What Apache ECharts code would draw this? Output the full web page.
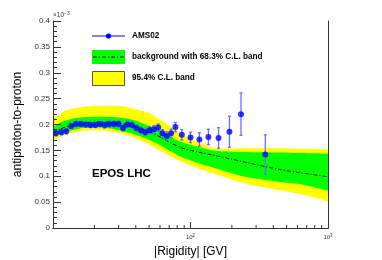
<!DOCTYPE html>
<html><head><meta charset="utf-8">
<script src="https://cdn.jsdelivr.net/npm/echarts@6/dist/echarts.min.js"></script>
<style>html,body{margin:0;padding:0;background:#fff}#c{width:382px;height:260px}</style>
</head><body><div id="c"></div>
<script>
// AMS02 antiproton-to-proton ratio (units of 1e-3)
const rigidity = [10.5, 11.5, 12.5, 13.55, 14.7, 15.95, 17.3, 18.75, 20.3, 21.95, 23.75, 25.7, 27.75, 29.95, 32.3, 34.8, 37.5, 40.4, 43.5, 46.8, 50.35, 54.15, 58.2, 62.55, 67.25, 72.3, 77.7, 86.5, 100, 116, 135, 160, 192, 233, 350];
const ratio = [0.183, 0.185, 0.187, 0.197, 0.201, 0.201, 0.200, 0.199, 0.199, 0.201, 0.199, 0.201, 0.201, 0.201, 0.193, 0.200, 0.199, 0.193, 0.189, 0.185, 0.189, 0.191, 0.194, 0.183, 0.178, 0.183, 0.195, 0.180, 0.175, 0.171, 0.176, 0.174, 0.186, 0.220, 0.142];
const ratioErr = [0.005, 0.005, 0.005, 0.005, 0.005, 0.005, 0.005, 0.005, 0.005, 0.005, 0.006, 0.006, 0.006, 0.006, 0.006, 0.006, 0.006, 0.006, 0.006, 0.006, 0.007, 0.007, 0.007, 0.007, 0.008, 0.008, 0.009, 0.010, 0.010, 0.013, 0.015, 0.020, 0.030, 0.041, 0.038];

// Background model (EPOS LHC) with confidence bands
const bandRigidity = [10, 11.2, 12.6, 14.4, 16.5, 22, 29, 38, 50, 60, 70, 88, 117, 145, 193, 250, 445, 620, 1000];
const yellowHigh = [0.210, 0.220, 0.228, 0.232, 0.234, 0.236, 0.236, 0.231, 0.222, 0.209, 0.198, 0.180, 0.165, 0.155, 0.153, 0.154, 0.154, 0.153, 0.152];
const greenHigh  = [0.195, 0.203, 0.208, 0.212, 0.214, 0.215, 0.214, 0.209, 0.197, 0.189, 0.178, 0.165, 0.156, 0.150, 0.148, 0.147, 0.146, 0.145, 0.144];
const bgCentral  = [0.185, 0.191, 0.196, 0.200, 0.203, 0.205, 0.203, 0.197, 0.186, 0.176, 0.166, 0.154, 0.146, 0.141, 0.134, 0.127, 0.113, 0.107, 0.099];
const greenLow   = [0.178, 0.183, 0.187, 0.190, 0.193, 0.194, 0.190, 0.182, 0.170, 0.160, 0.150, 0.136, 0.124, 0.117, 0.107, 0.099, 0.089, 0.085, 0.072];
const yellowLow  = [0.170, 0.176, 0.181, 0.185, 0.188, 0.189, 0.184, 0.176, 0.161, 0.150, 0.140, 0.127, 0.114, 0.106, 0.095, 0.086, 0.073, 0.066, 0.051];

const xMinorTicks = [20, 30, 40, 50, 60, 70, 80, 90, 200, 300, 400, 500, 600, 700, 800, 900];
const xTickExponents = {100: '2', 1000: '3'};

const FONT = '"Liberation Sans", Arial, Helvetica, sans-serif';
const chart = echarts.init(document.getElementById('c'), null, {renderer: 'canvas'});

function pairs(xs, ys) { return xs.map((x, i) => [x, ys[i]]); }

const SM = 0.3;
const hidden = {opacity: 0, width: 0};
// Layered fills: yellow to bottom, green to bottom, yellow below green, white below yellow
function fill(ys, color, z) {
  return {type: 'line', data: pairs(bandRigidity, ys), symbol: 'none', smooth: SM, lineStyle: hidden,
          areaStyle: {color: color, opacity: 1, origin: 'start'}, silent: true, z: z};
}

chart.setOption({
  animation: false,
  grid: {left: 53, right: 54, top: 21, bottom: 32, show: false, containLabel: false, outerBoundsMode: 'none'},
  xAxis: [{
    type: 'log', logBase: 10, min: 10, max: 1000, z: 10,
    name: '|Rigidity| [GV]', nameLocation: 'middle', nameGap: 17,
    nameTextStyle: {fontFamily: FONT, fontSize: 12, color: '#000'},
    axisLine: {show: true, lineStyle: {color: '#333', width: 1}},
    axisTick: {show: true, inside: true, length: 6, lineStyle: {color: '#333'}},
    minorTick: {show: false},
    splitLine: {show: false},
    axisLabel: {
      margin: 5, color: '#333',
      formatter: v => xTickExponents[Math.round(v)] ? '{b|10}{s|' + xTickExponents[Math.round(v)] + '}' : '',
      rich: {b: {fontFamily: FONT, fontSize: 6, color: '#333'}, s: {fontFamily: FONT, fontSize: 4.5, color: '#333', padding: [0, 0, 4, 0]}}
    }
  }, {
    type: 'log', logBase: 10, min: 10, max: 1000, position: 'top', z: 10,
    axisLine: {show: true, lineStyle: {color: '#333', width: 1}},
    axisTick: {show: false}, axisLabel: {show: false}, splitLine: {show: false}
  }],
  yAxis: [{
    type: 'value', min: 0, max: 0.4, interval: 0.05, z: 10,
    name: 'antiproton-to-proton', nameLocation: 'middle', nameGap: 21,
    nameTextStyle: {fontFamily: FONT, fontSize: 12, color: '#000'},
    axisLine: {show: true, lineStyle: {color: '#333', width: 1}},
    axisTick: {show: true, inside: true, length: 8, lineStyle: {color: '#333'}},
    minorTick: {show: true, splitNumber: 5, length: 4, lineStyle: {color: '#333'}},
    splitLine: {show: false},
    axisLabel: {margin: 3, fontFamily: FONT, fontSize: 8, color: '#333'}
  }, {
    type: 'value', min: 0, max: 0.4, position: 'right', z: 10,
    axisLine: {show: true, lineStyle: {color: '#333', width: 1}},
    axisTick: {show: false}, axisLabel: {show: false}, splitLine: {show: false}
  }],
  series: [
    fill(yellowHigh, '#ffff00', 1),
    fill(greenHigh, '#00ff00', 1.1),
    fill(greenLow, '#ffff00', 1.2),
    fill(yellowLow, '#ffffff', 1.3),
    {type: 'line', data: pairs(bandRigidity, bgCentral), symbol: 'none', smooth: SM, lineStyle: {color: '#000', width: 1, type: [4, 2, 1, 2]}, silent: true, z: 3},
    {
      type: 'custom', z: 4, silent: true,
      data: rigidity.map((r, i) => [r, ratio[i] - ratioErr[i], ratio[i] + ratioErr[i]]),
      encode: {x: 0, y: [1, 2]},
      renderItem: (params, api) => {
        const x = api.value(0);
        const lo = api.coord([x, api.value(1)]);
        const hi = api.coord([x, api.value(2)]);
        const st = {stroke: '#6e6eff', lineWidth: 1.3};
        return {type: 'group', children: [
          {type: 'line', shape: {x1: lo[0], y1: lo[1], x2: hi[0], y2: hi[1]}, style: st},
          {type: 'line', shape: {x1: lo[0] - 1.5, y1: lo[1], x2: lo[0] + 1.5, y2: lo[1]}, style: st},
          {type: 'line', shape: {x1: hi[0] - 1.5, y1: hi[1], x2: hi[0] + 1.5, y2: hi[1]}, style: st}
        ]};
      }
    },
    {type: 'scatter', data: pairs(rigidity, ratio), symbol: 'circle', symbolSize: 6, itemStyle: {color: '#0000ff'}, silent: true, z: 5},
    {
      type: 'custom', z: 6, silent: true, clip: false,
      data: xMinorTicks.map(v => [v, 0]),
      renderItem: (params, api) => {
        const p = api.coord([api.value(0), 0]);
        return {type: 'line', shape: {x1: p[0], y1: p[1], x2: p[0], y2: p[1] - 3}, style: {stroke: '#333', lineWidth: 1}};
      }
    }
  ],
  graphic: [
    {type: 'text', z: 100, left: 53, top: 11, style: {text: '{a|×10}{b|−3}', rich: {a: {fontFamily: FONT, fontSize: 6.5, fill: '#333'}, b: {fontFamily: FONT, fontSize: 5, fill: '#333', padding: [0, 0, 4, 0]}}}},
    {type: 'line', z: 100, shape: {x1: 92, y1: 36, x2: 125, y2: 36}, style: {stroke: '#0000ff', lineWidth: 1}},
    {type: 'circle', z: 100, shape: {cx: 108.5, cy: 36, r: 2.6}, style: {fill: '#0000ff'}},
    {type: 'text', z: 100, x: 132, y: 36, style: {text: 'AMS02', fontFamily: FONT, fontWeight: 'bold', fontSize: 8.2, fill: '#000', verticalAlign: 'middle'}},
    {type: 'rect', z: 100, shape: {x: 92, y: 50, width: 33, height: 14}, style: {fill: '#00ff00'}},
    {type: 'line', z: 101, shape: {x1: 93, y1: 57, x2: 124, y2: 57}, style: {stroke: '#000', lineWidth: 1, lineDash: [4, 2, 1, 2]}},
    {type: 'text', z: 100, x: 132, y: 57, style: {text: 'background with 68.3% C.L. band', fontFamily: FONT, fontWeight: 'bold', fontSize: 8.2, fill: '#000', verticalAlign: 'middle'}},
    {type: 'rect', z: 100, shape: {x: 92.5, y: 71.5, width: 32, height: 14}, style: {fill: '#ffff00', stroke: '#555', lineWidth: 1}},
    {type: 'text', z: 100, x: 132, y: 78, style: {text: '95.4% C.L. band', fontFamily: FONT, fontWeight: 'bold', fontSize: 8.2, fill: '#000', verticalAlign: 'middle'}},
    {type: 'text', z: 100, x: 92, y: 174, style: {text: 'EPOS LHC', fontFamily: FONT, fontWeight: 'bold', fontSize: 11.5, fill: '#000', verticalAlign: 'middle'}}
  ]
});
</script></body></html>
